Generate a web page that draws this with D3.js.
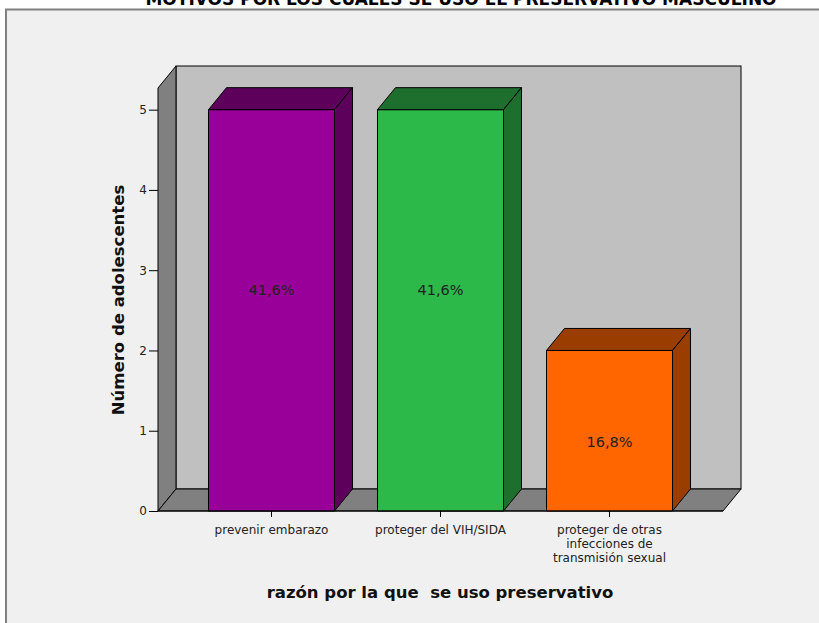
<!DOCTYPE html>
<html>
<head>
<meta charset="utf-8">
<script src="https://cdn.jsdelivr.net/npm/d3@7"></script>
<style>
html,body{margin:0;padding:0;background:#ffffff;}
svg{display:block;}
</style>
</head>
<body>
<div id="chart"></div>
<script>
const categories = ["prevenir embarazo", "proteger del VIH/SIDA", "proteger de otras infecciones de transmisión sexual"];
const categoryLines = [["prevenir embarazo"], ["proteger del VIH/SIDA"], ["proteger de otras", "infecciones de", "transmisión sexual"]];
const values = [5, 5, 2];
const percentLabels = ["41,6%", "41,6%", "16,8%"];
const labelPos = [2.75, 2.75, 0.86];
const frontColors = ["#990099", "#2db84a", "#ff6600"];
const darkColors = ["#5c005c", "#1e6e2d", "#993d00"];
const yTicks = [0, 1, 2, 3, 4, 5];
const title = "MOTIVOS POR LOS CUALES SE USO EL PRESERVATIVO MASCULINO";
const xTitle = "razón por la que  se uso preservativo";
const yTitle = "Número de adolescentes";

(function () {
const W = 819, H = 623;
const svg = d3.select("#chart").append("svg").attr("width", W).attr("height", H);

// outer panel
svg.append("rect").attr("x", 0).attr("y", 0).attr("width", W).attr("height", H).attr("fill", "#ffffff");
svg.append("rect").attr("x", 6).attr("y", 9.5).attr("width", W + 10).attr("height", H + 10)
  .attr("fill", "#f0f0f0").attr("stroke", "#808080").attr("stroke-width", 2);

// title (cut off at top, as in the source image)
svg.append("text").attr("x", 461).attr("y", 5)
  .attr("text-anchor", "middle")
  .attr("font-family", "DejaVu Sans").attr("font-weight", "bold").attr("font-size", 17)
  .attr("fill", "#000").text(title);

const pLeft = 158, pRight = 723, pBottom = 511, pTop = 88;
const dx = 18, dy = -22;

const y = d3.scaleLinear().domain([0, 5.27]).range([pBottom, pTop]);
const x = d3.scaleBand().domain(categories).range([pLeft, pRight]).paddingInner(0.2544).paddingOuter(0.2988);

const stroke = "#000";
const pts = arr => arr.map(p => p.join(",")).join(" ");
// back wall
svg.append("rect").attr("x", pLeft + dx).attr("y", pTop + dy).attr("width", pRight - pLeft)
  .attr("height", pBottom - pTop).attr("fill", "#c0c0c0").attr("stroke", stroke).attr("stroke-width", 1);
// left wall
svg.append("polygon").attr("points", pts([[pLeft, pTop], [pLeft + dx, pTop + dy], [pLeft + dx, pBottom + dy], [pLeft, pBottom]]))
  .attr("fill", "#808080").attr("stroke", stroke).attr("stroke-width", 1);
// floor
svg.append("polygon").attr("points", pts([[pLeft, pBottom], [pLeft + dx, pBottom + dy], [pRight + dx, pBottom + dy], [pRight, pBottom]]))
  .attr("fill", "#808080").attr("stroke", stroke).attr("stroke-width", 1);

// y axis
const yAxis = d3.axisLeft(y).tickValues(yTicks).tickSize(9).tickPadding(2).tickFormat(d3.format("d"));
const yg = svg.append("g").attr("transform", `translate(${pLeft},0)`).call(yAxis);
yg.select(".domain").remove();
yg.selectAll(".tick line").attr("stroke", "#000");
yg.selectAll(".tick text").attr("font-family", "DejaVu Sans").attr("font-size", 12).attr("fill", "#222");

// bars
const bars = svg.append("g");
categories.forEach((c, i) => {
  const x0 = x(c), x1 = x(c) + x.bandwidth();
  const yt = y(values[i]);
  const g = bars.append("g");
  g.append("rect").attr("x", x0).attr("y", yt).attr("width", x1 - x0).attr("height", pBottom - yt)
    .attr("fill", frontColors[i]).attr("stroke", stroke).attr("stroke-width", 1);
  g.append("polygon").attr("points", pts([[x0, yt], [x0 + dx, yt + dy], [x1 + dx, yt + dy], [x1, yt]]))
    .attr("fill", darkColors[i]).attr("stroke", stroke).attr("stroke-width", 1).attr("stroke-linejoin", "round");
  g.append("polygon").attr("points", pts([[x1, yt], [x1 + dx, yt + dy], [x1 + dx, pBottom + dy], [x1, pBottom]]))
    .attr("fill", darkColors[i]).attr("stroke", stroke).attr("stroke-width", 1).attr("stroke-linejoin", "round");
  g.append("text").attr("x", x0 + x.bandwidth() / 2).attr("y", y(labelPos[i]))
    .attr("dy", "0.35em").attr("text-anchor", "middle")
    .attr("font-family", "DejaVu Sans").attr("font-size", 14.5).attr("fill", "#222")
    .text(percentLabels[i]);
});

// x axis ticks & labels
const xg = svg.append("g").attr("transform", `translate(0,${pBottom})`);
categories.forEach((c, i) => {
  const cx = x(c) + x.bandwidth() / 2;
  xg.append("line").attr("x1", cx).attr("x2", cx).attr("y1", 0).attr("y2", 6).attr("stroke", "#000");
  const t = xg.append("text").attr("x", cx).attr("y", 23).attr("text-anchor", "middle")
    .attr("font-family", "DejaVu Sans").attr("font-size", 12).attr("fill", "#222");
  categoryLines[i].forEach((ln, j) => {
    t.append("tspan").attr("x", cx).attr("dy", j === 0 ? 0 : 13.8).text(ln);
  });
});
// front floor edge line
svg.append("line").attr("x1", pLeft).attr("x2", pRight).attr("y1", pBottom).attr("y2", pBottom).attr("stroke", "#000");

// axis titles
svg.append("text").attr("x", 440).attr("y", 598).attr("text-anchor", "middle")
  .attr("font-family", "DejaVu Sans").attr("font-weight", "bold").attr("font-size", 16.5)
  .attr("fill", "#111").style("white-space", "pre").text(xTitle);
svg.append("text").attr("transform", `translate(124,300) rotate(-90)`).attr("text-anchor", "middle")
  .attr("font-family", "DejaVu Sans").attr("font-weight", "bold").attr("font-size", 16.5)
  .attr("fill", "#111").text(yTitle);
})();
</script>
</body>
</html>
